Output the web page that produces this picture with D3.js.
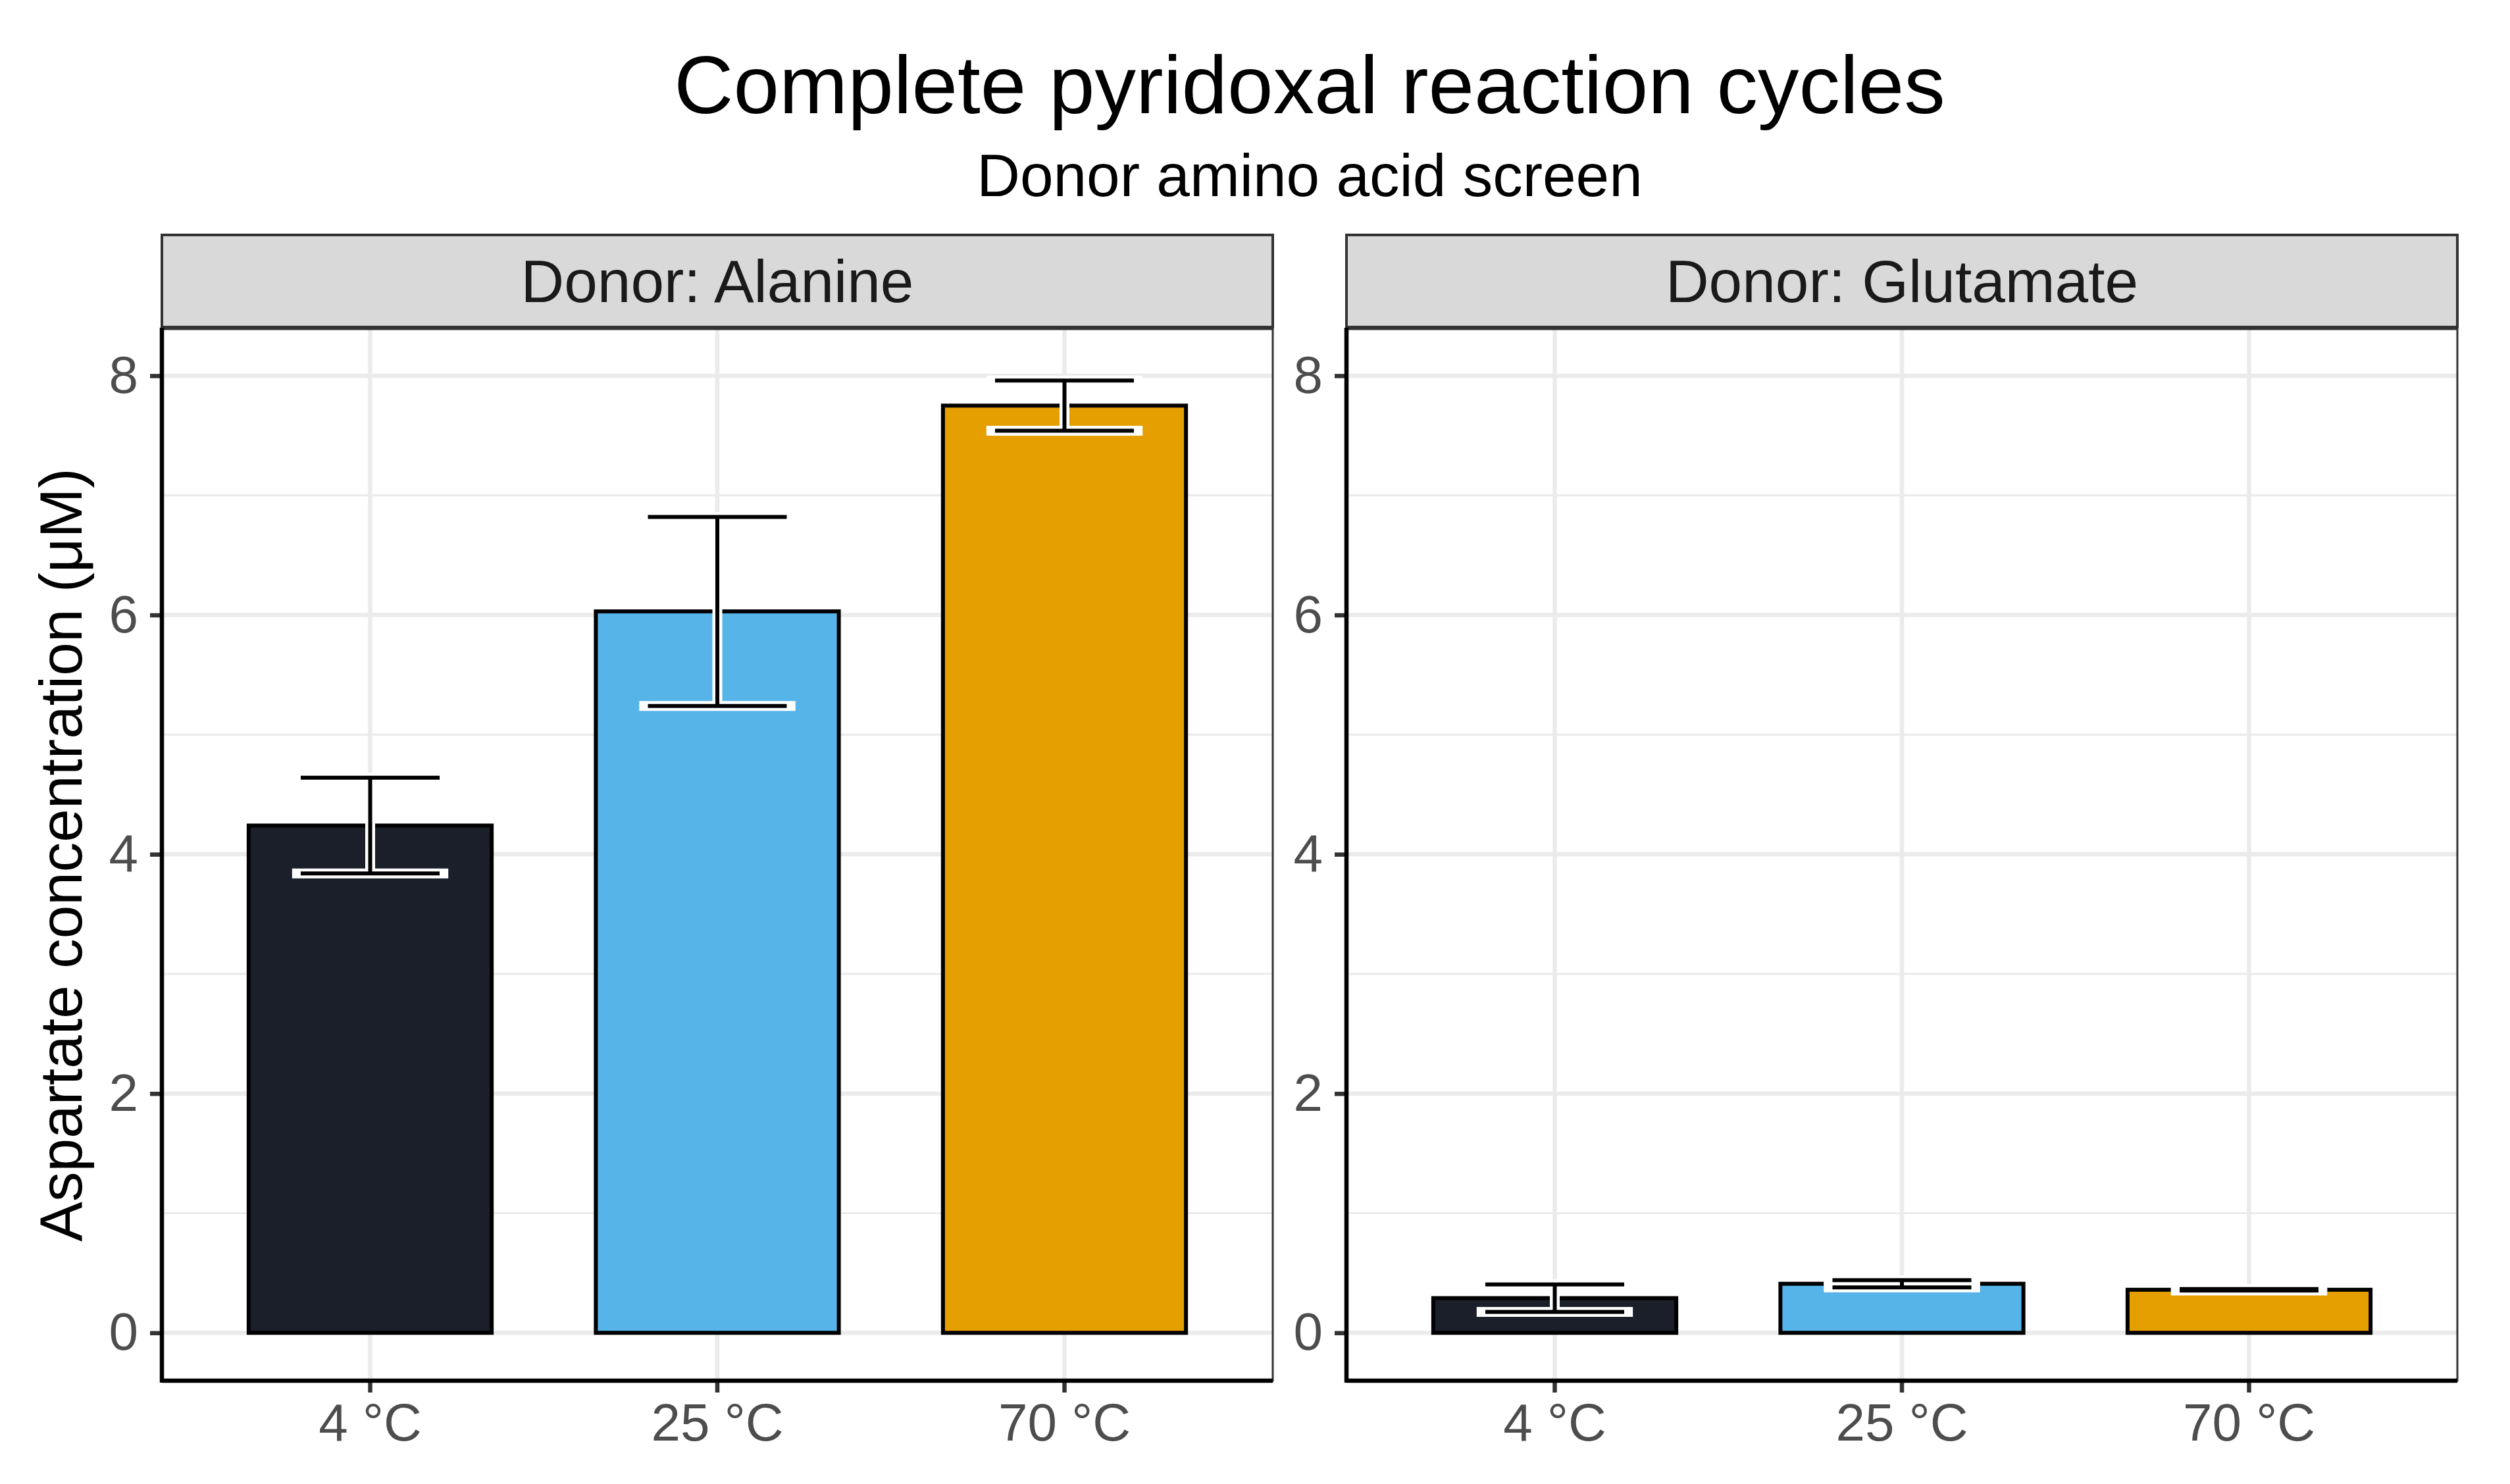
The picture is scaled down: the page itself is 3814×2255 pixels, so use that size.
<!DOCTYPE html>
<html>
<head>
<meta charset="utf-8">
<script src="https://cdn.jsdelivr.net/npm/d3@7"></script>
<style>
  html, body { margin: 0; padding: 0; background: #fff; }
  svg { display: block; font-family: "Liberation Sans", Arial, sans-serif; }
</style>
</head>
<body>
<div id="chart"></div>
<script>
  // Data
  const TEMPERATURES = ['4 °C', '25 °C', '70 °C'];
  const DONORS = ['Donor: Alanine', 'Donor: Glutamate'];
  const ALANINE_MEAN = [4.24, 6.03, 7.75];
  const ALANINE_SD = [0.40, 0.79, 0.21];
  const GLUTAMATE_MEAN = [0.29, 0.41, 0.36];
  const GLUTAMATE_SD = [0.115, 0.03, 0.006];
  const Y_TICKS = [0, 2, 4, 6, 8];
  const Y_MINOR = [1, 3, 5, 7];
  const BAR_COLORS = ['#1A1F2A', '#56B4E9', '#E69F00'];

  const TITLE = 'Complete pyridoxal reaction cycles';
  const SUBTITLE = 'Donor amino acid screen';
  const Y_TITLE = 'Aspartate concentration (μM)';

  const W = 3814, H = 2255;
  const PANEL_TOP = 500, PANEL_BOTTOM = 2098;
  const PANEL_W = 1688;
  const PANEL_LEFTS = [246, 2046];
  const STRIP_TOP = 357, STRIP_BOTTOM = 497;
  // titles are centred over the panel area, as ggplot does
  const TITLE_X = (PANEL_LEFTS[0] + PANEL_LEFTS[1] + PANEL_W) / 2;

  const COLORS = {
    grid: '#EBEBEB',
    border: '#333333',
    strip: '#D9D9D9',
    tickText: '#4D4D4D',
    stripText: '#1A1A1A'
  };

  const panels = DONORS.map((name, i) => ({
    name,
    left: PANEL_LEFTS[i],
    rows: TEMPERATURES.map((t, j) => ({
      temp: t,
      mean: i === 0 ? ALANINE_MEAN[j] : GLUTAMATE_MEAN[j],
      sd: i === 0 ? ALANINE_SD[j] : GLUTAMATE_SD[j],
      color: BAR_COLORS[j]
    }))
  }));

  const svg = d3.select('#chart').append('svg')
    .attr('width', W)
    .attr('height', H);

  svg.append('rect').attr('width', W).attr('height', H).attr('fill', '#fff');

  const y = d3.scaleLinear()
    .domain([-0.4, 8.39])
    .range([PANEL_BOTTOM, PANEL_TOP]);

  // Titles
  svg.append('text')
    .attr('x', TITLE_X).attr('y', 172)
    .attr('text-anchor', 'middle')
    .attr('font-size', 125)
    .attr('fill', '#000')
    .text(TITLE);

  svg.append('text')
    .attr('x', TITLE_X).attr('y', 298)
    .attr('text-anchor', 'middle')
    .attr('font-size', 91)
    .attr('fill', '#000')
    .text(SUBTITLE);

  svg.append('text')
    .attr('transform', `translate(124,${(PANEL_TOP + PANEL_BOTTOM) / 2}) rotate(-90)`)
    .attr('text-anchor', 'middle')
    .attr('font-size', 91)
    .attr('fill', '#000')
    .text(Y_TITLE);

  panels.forEach((p) => {
    const x = d3.scaleBand()
      .domain(TEMPERATURES)
      .range([p.left, p.left + PANEL_W])
      .paddingInner(0.3)
      .paddingOuter(0.25);
    const step = x.step();
    const cx = (t) => x(t) + x.bandwidth() / 2;

    const g = svg.append('g');

    // Strip
    g.append('rect')
      .attr('x', p.left).attr('y', STRIP_TOP)
      .attr('width', PANEL_W).attr('height', STRIP_BOTTOM - STRIP_TOP)
      .attr('fill', COLORS.strip)
      .attr('stroke', COLORS.border)
      .attr('stroke-width', 4);

    g.append('text')
      .attr('x', p.left + PANEL_W / 2).attr('y', 459)
      .attr('text-anchor', 'middle')
      .attr('font-size', 91)
      .attr('fill', COLORS.stripText)
      .text(p.name);

    // Grid
    g.selectAll('.minor').data(Y_MINOR).join('line')
      .attr('x1', p.left).attr('x2', p.left + PANEL_W)
      .attr('y1', (d) => y(d)).attr('y2', (d) => y(d))
      .attr('stroke', COLORS.grid).attr('stroke-width', 3.2);

    g.selectAll('.major').data(Y_TICKS).join('line')
      .attr('x1', p.left).attr('x2', p.left + PANEL_W)
      .attr('y1', (d) => y(d)).attr('y2', (d) => y(d))
      .attr('stroke', COLORS.grid).attr('stroke-width', 6.5);

    g.selectAll('.vgrid').data(TEMPERATURES).join('line')
      .attr('x1', cx).attr('x2', cx)
      .attr('y1', PANEL_TOP).attr('y2', PANEL_BOTTOM)
      .attr('stroke', COLORS.grid).attr('stroke-width', 6.5);

    // Bars
    g.selectAll('.bar').data(p.rows).join('rect')
      .attr('x', (d) => x(d.temp))
      .attr('width', x.bandwidth())
      .attr('y', (d) => y(d.mean))
      .attr('height', (d) => y(0) - y(d.mean))
      .attr('fill', (d) => d.color)
      .attr('stroke', '#000')
      .attr('stroke-width', 6);

    // Error bars: white halo first, then black
    function errorbar(sel, halfW, color, lw) {
      sel.append('line')
        .attr('x1', (d) => cx(d.temp)).attr('x2', (d) => cx(d.temp))
        .attr('y1', (d) => y(d.mean + d.sd)).attr('y2', (d) => y(d.mean - d.sd))
        .attr('stroke', color).attr('stroke-width', lw);
      [1, -1].forEach((s) => {
        sel.append('line')
          .attr('x1', (d) => cx(d.temp) - halfW).attr('x2', (d) => cx(d.temp) + halfW)
          .attr('y1', (d) => y(d.mean + s * d.sd)).attr('y2', (d) => y(d.mean + s * d.sd))
          .attr('stroke', color).attr('stroke-width', lw);
      });
    }

    const halo = g.selectAll('.halo').data(p.rows).join('g');
    errorbar(halo, step * 0.225, '#fff', 15);
    const ebar = g.selectAll('.ebar').data(p.rows).join('g');
    errorbar(ebar, step * 0.2, '#000', 6);

    // Panel border
    g.append('rect')
      .attr('x', p.left).attr('y', PANEL_TOP)
      .attr('width', PANEL_W).attr('height', PANEL_BOTTOM - PANEL_TOP)
      .attr('fill', 'none')
      .attr('stroke', COLORS.border)
      .attr('stroke-width', 3);

    // Axes
    const yAxis = g.append('g')
      .attr('transform', `translate(${p.left},0)`)
      .call(d3.axisLeft(y).tickValues(Y_TICKS).tickSize(18).tickPadding(18).tickFormat(d3.format('d')));
    const xAxis = g.append('g')
      .attr('transform', `translate(0,${PANEL_BOTTOM})`)
      .call(d3.axisBottom(x).tickSize(18).tickPadding(16));

    [yAxis, xAxis].forEach((a) => {
      a.select('.domain').remove();
      a.selectAll('.tick line').attr('stroke', COLORS.border).attr('stroke-width', 6.5);
      a.selectAll('.tick text')
        .attr('font-size', 80)
        .attr('font-family', '"Liberation Sans", Arial, sans-serif')
        .attr('fill', COLORS.tickText);
    });

    // Axis lines
    g.append('line')
      .attr('x1', p.left).attr('x2', p.left)
      .attr('y1', PANEL_TOP - 2).attr('y2', PANEL_BOTTOM + 3)
      .attr('stroke', '#000').attr('stroke-width', 6.5);
    g.append('line')
      .attr('x1', p.left).attr('x2', p.left + PANEL_W)
      .attr('y1', PANEL_BOTTOM).attr('y2', PANEL_BOTTOM)
      .attr('stroke', '#000').attr('stroke-width', 6.5);
  });
</script>
</body>
</html>
